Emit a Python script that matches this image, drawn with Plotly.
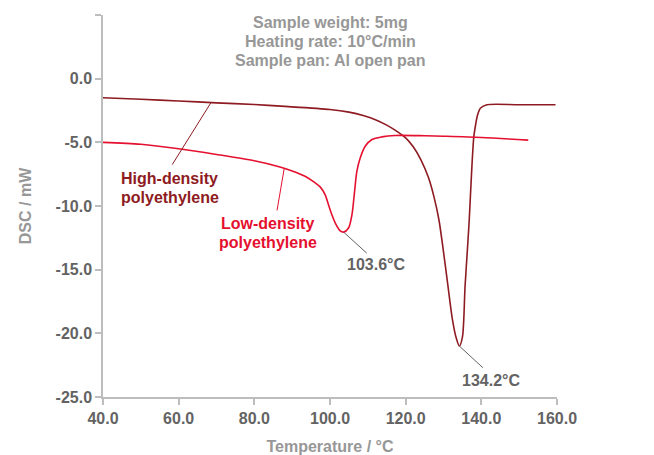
import plotly.graph_objects as go

# DSC heating curves of two polyethylene grades
hdpe_temp = [40, 50, 60, 70, 80, 87, 100, 105, 109, 112, 115, 117.5, 120, 122, 124, 126,
             127.5, 128.8, 130.0, 131.1, 132.3, 133.3, 134.2, 135.0, 135.7, 136.3, 136.8,
             137.4, 138.0, 138.5, 139.0, 139.8, 141.5, 150, 159.6]
hdpe_dsc = [-1.50, -1.62, -1.75, -1.90, -2.03, -2.16, -2.42, -2.63, -2.92, -3.22, -3.65,
            -4.1, -4.65, -5.35, -6.35, -7.75, -9.3, -11.1, -13.6, -16.1, -18.8, -20.3,
            -21.0, -20.3, -16.3, -13.5, -11.1, -7.5, -4.6, -3.6, -2.85, -2.3, -2.05,
            -2.05, -2.05]

ldpe_temp = [40, 50, 60, 70, 80, 86.3, 90, 93.4, 96.1, 97.4, 98.7, 99.6, 100.5, 101.4,
             102.7, 103.6, 104.9, 105.8, 106.5, 107.1, 108.0, 109.3, 111.1, 113.7, 117.2,
             125, 130, 140, 152.4]
ldpe_dsc = [-5.0, -5.15, -5.5, -5.95, -6.45, -6.9, -7.25, -7.67, -8.19, -8.5, -9.11, -9.9,
            -10.69, -11.34, -11.95, -12.05, -11.73, -10.69, -8.85, -7.28, -6.22, -5.31,
            -4.78, -4.57, -4.46, -4.48, -4.52, -4.62, -4.83]

x_ticks = [40, 60, 80, 100, 120, 140, 160]
y_ticks = [-25, -20, -15, -10, -5, 0, 5]
y_tick_text = ["-25.0", "-20.0", "-15.0", "-10.0", "-5.0", "0.0", ""]

conditions = ["Sample weight: 5mg", "Heating rate: 10°C/min", "Sample pan: Al open pan"]
hdpe_label = ["High-density", "polyethylene"]
ldpe_label = ["Low-density", "polyethylene"]
note_label = ["Melting temperature", "varies according", "to density"]
ldpe_peak = (103.6, -12.05)
hdpe_peak = (134.2, -21.0)

DARK_RED = "#8e1b22"
BRIGHT_RED = "#e5102f"
TICK_GRAY = "#636363"
TITLE_GRAY = "#979797"
AXIS_GRAY = "#bdbdbd"
FONT = "Liberation Sans, Arial, sans-serif"
LINE_STEP = 1.51  # one text line (about 19 px) in y-axis units

fig = go.Figure()
fig.add_trace(go.Scatter(x=hdpe_temp, y=hdpe_dsc, mode="lines",
                         line=dict(color=DARK_RED, width=1.6, shape="spline", smoothing=0.8),
                         hoverinfo="skip", showlegend=False))
fig.add_trace(go.Scatter(x=ldpe_temp, y=ldpe_dsc, mode="lines",
                         line=dict(color=BRIGHT_RED, width=1.6, shape="spline", smoothing=0.8),
                         hoverinfo="skip", showlegend=False))


def text_block(lines, x, y_first, color):
    for i, line in enumerate(lines):
        fig.add_annotation(x=x, y=y_first - i * LINE_STEP, text=line, showarrow=False,
                           xanchor="center", yanchor="middle",
                           font=dict(family=FONT, size=16, color=color, weight="bold"))


text_block(conditions, 100.0, 4.42, TITLE_GRAY)
text_block(hdpe_label, 57.7, -7.85, DARK_RED)
text_block(ldpe_label, 83.5, -11.34, BRIGHT_RED)
text_block(note_label, 164.2, -8.8, DARK_RED)
text_block([f"{ldpe_peak[0]:.1f}°C"], 112.2, -14.6, TICK_GRAY)
text_block([f"{hdpe_peak[0]:.1f}°C"], 142.6, -23.7, TICK_GRAY)

# leader lines from the labels to the curves
leaders = [
    ((68.5, -1.9), (58.3, -6.75), DARK_RED),
    ((87.9, -7.05), (86.0, -10.35), BRIGHT_RED),
    (ldpe_peak, (109.7, -13.7), TICK_GRAY),
    (hdpe_peak, (140.4, -22.7), TICK_GRAY),
]
for (x0, y0), (x1, y1), c in leaders:
    fig.add_shape(type="line", xref="x", yref="y", x0=x0, y0=y0, x1=x1, y1=y1,
                  line=dict(color=c, width=1))

axis_common = dict(showgrid=False, zeroline=False, showline=True, linecolor=AXIS_GRAY,
                   linewidth=1.5, ticks="outside", ticklen=6, tickcolor=AXIS_GRAY,
                   tickwidth=1.5,
                   tickfont=dict(family=FONT, size=16, color=TICK_GRAY, weight="bold"))

fig.update_xaxes(range=[40, 160], tickvals=x_ticks, tickformat=".1f",
                 title=dict(text="Temperature / °C", standoff=17,
                            font=dict(family=FONT, size=16, color=TITLE_GRAY, weight="bold")),
                 **axis_common)
fig.update_yaxes(range=[-25, 5], tickvals=y_ticks, ticktext=y_tick_text,
                 title=dict(text="DSC / mW", standoff=20,
                            font=dict(family=FONT, size=16, color=TITLE_GRAY, weight="bold")),
                 **axis_common)

fig.update_layout(width=654, height=455, plot_bgcolor="white", paper_bgcolor="white",
                  margin=dict(l=103, r=97, t=15, b=58, autoexpand=False),
                  font=dict(family=FONT))

fig.write_html("out.html")
